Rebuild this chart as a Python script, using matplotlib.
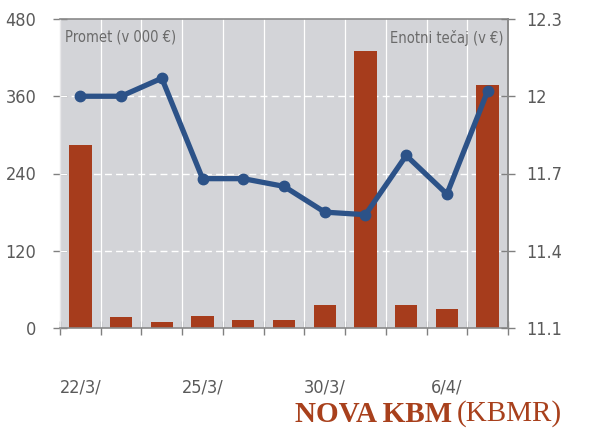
import numpy as np
import matplotlib.pyplot as plt

# trading days, turnover (000 EUR) and unit price (EUR)
days = ["22/3/", "23/3/", "24/3/", "25/3/", "26/3/", "29/3/",
        "30/3/", "31/3/", "1/4/", "6/4/", "7/4/"]
shown_days = ["22/3/", "25/3/", "30/3/", "6/4/"]
turnover = [285, 17, 9, 19, 12.5, 12.5, 36, 430, 35, 29, 377]
price = [12.0, 12.0, 12.07, 11.68, 11.68, 11.65, 11.55, 11.54, 11.77, 11.62, 12.02]

left_ticks = [0, 120, 240, 360, 480]
right_ticks = [11.1, 11.4, 11.7, 12.0, 12.3]
right_labels = ["11.1", "11.4", "11.7", "12", "12.3"]

bar_color = "#a63c1c"
line_color = "#2c5288"
text_gray = "#5a5a5a"
narrow = ["DejaVu Sans"]
stretch = "condensed"

fig = plt.figure(figsize=(6.08, 4.30), dpi=100)
ax = fig.add_axes([60 / 608, 1 - 328 / 430, 448 / 608, 309 / 430])
ax.set_facecolor("#d3d4d8")
ax.set_axisbelow(True)

x = np.arange(len(days))
ax.bar(x, turnover, width=0.55, color=bar_color, zorder=2)
ax.set_xlim(-0.5, len(days) - 0.5)
ax.set_ylim(0, 480)

# white grid: solid verticals between days, dashed horizontals
for b in np.arange(-0.5, len(days), 1.0)[1:-1]:
    ax.axvline(b, color="white", lw=0.9, zorder=1)
for t in left_ticks[1:-1]:
    ax.axhline(t, color="white", lw=1.0, ls=(0, (5, 3)), zorder=1)

ax.set_yticks(left_ticks)
ax.set_yticklabels([str(t) for t in left_ticks], fontsize=13, color=text_gray,
                   family=narrow, fontstretch=stretch)
ax.tick_params(axis="y", direction="inout", length=10, width=1, color="#808080", pad=12)

idx = [days.index(d) for d in shown_days]
ax.set_xticks(idx)
ax.set_xticklabels(shown_days, fontsize=13, color=text_gray, family=narrow, fontstretch=stretch)
ax.set_xticks(np.arange(-0.5, len(days), 1.0), minor=True)
ax.tick_params(axis="x", which="major", length=0, pad=36)
ax.tick_params(axis="x", which="minor", direction="inout", length=10, width=1, color="#808080")

for side in ["top", "bottom", "right"]:
    ax.spines[side].set_color("#8a8a8a")
    ax.spines[side].set_linewidth(1.2)
ax.spines["left"].set_color("#e8e8ea")
ax.spines["left"].set_linewidth(1.0)

ax2 = ax.twinx()
ax2.plot(x, price, color=line_color, lw=3.8, marker="o", ms=7.5, zorder=3)
ax2.set_ylim(11.1, 12.3)
ax2.set_yticks(right_ticks)
ax2.set_yticklabels(right_labels, fontsize=13, color=text_gray, family=narrow, fontstretch=stretch)
ax2.tick_params(axis="y", direction="inout", length=10, width=1, color="#808080", pad=8)
for side in ["top", "bottom", "left"]:
    ax2.spines[side].set_visible(False)
ax2.spines["right"].set_color("#8a8a8a")
ax2.spines["right"].set_linewidth(1.2)

ax.text(0.012, 0.965, "Promet (v 000 €)", transform=ax.transAxes, ha="left", va="top",
        fontsize=10.5, color="#6a6a6a", family=narrow, fontstretch=stretch)
ax.text(0.99, 0.965, "Enotni tečaj (v €)", transform=ax.transAxes, ha="right", va="top",
        fontsize=10.5, color="#6a6a6a", family=narrow, fontstretch=stretch)

# bottom caption
serif = ["Liberation Serif", "DejaVu Serif"]
t1 = fig.text(295 / 608, 1 - 414 / 430, "NOVA KBM", fontsize=21, fontweight="bold",
              color="#a8401c", family=serif, va="center", ha="left")
fig.canvas.draw()
bb = t1.get_window_extent()
fig.text(bb.x1 / 608 + 0.008, 1 - 414 / 430, "(KBMR)", fontsize=21,
         color="#a8401c", family=serif, va="center", ha="left")

fig.savefig("out.png", dpi=100)
